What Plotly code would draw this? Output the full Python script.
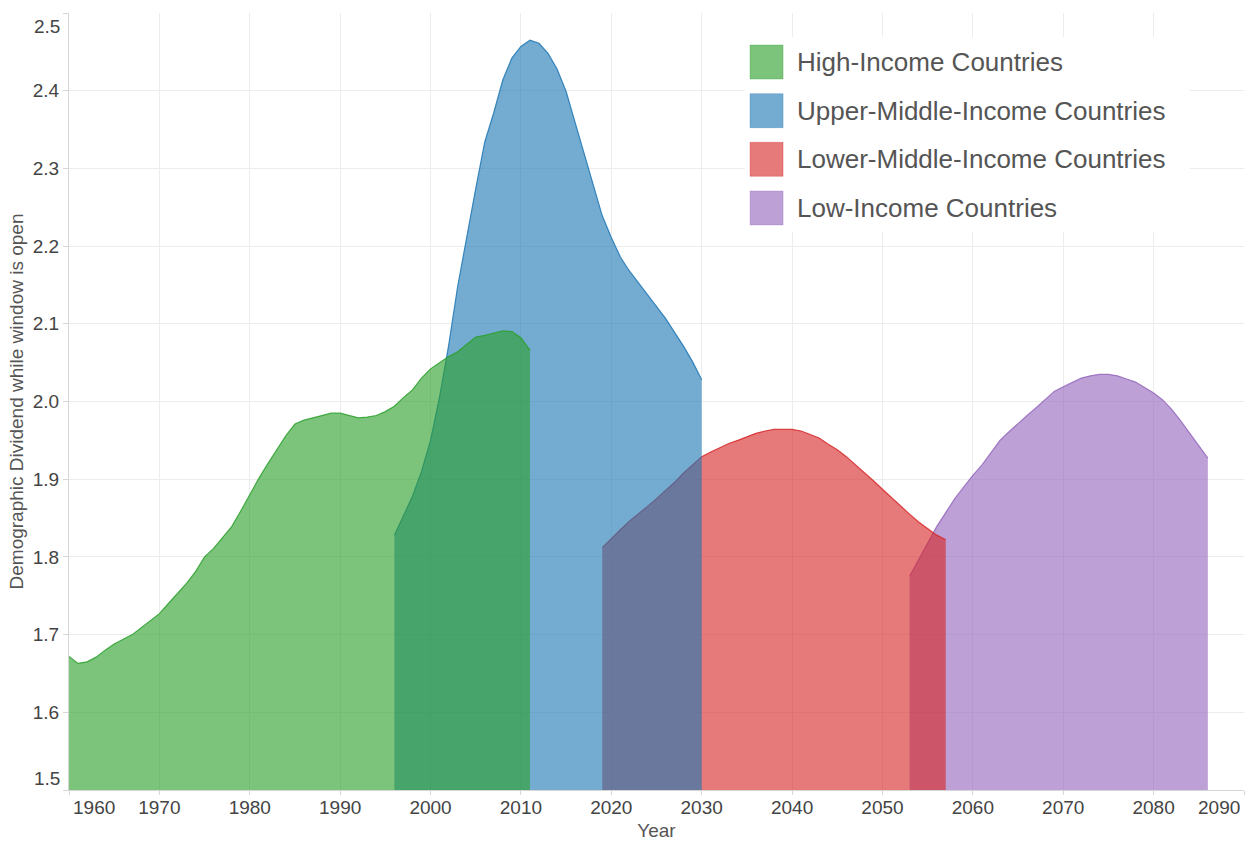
import plotly.graph_objects as go

# ---------------- data ----------------
SERIES_NAMES = [
    "High-Income Countries",
    "Upper-Middle-Income Countries",
    "Lower-Middle-Income Countries",
    "Low-Income Countries",
]

high_years = list(range(1960, 2012))
high_values = [
    1.672, 1.663, 1.665, 1.671, 1.680, 1.688, 1.694, 1.700, 1.709, 1.718,
    1.727, 1.740, 1.753, 1.766, 1.781, 1.800, 1.811, 1.825, 1.839, 1.859,
    1.880, 1.901, 1.920, 1.938, 1.956, 1.971, 1.976, 1.979, 1.982, 1.985,
    1.985, 1.982, 1.979, 1.980, 1.982, 1.987, 1.994, 2.005, 2.015, 2.030,
    2.042, 2.050, 2.058, 2.064, 2.073, 2.083, 2.085, 2.088, 2.091, 2.090,
    2.082, 2.066,
]

upper_mid_years = list(range(1996, 2031))
upper_mid_values = [
    1.828, 1.853, 1.878, 1.910, 1.950, 2.006, 2.072, 2.148, 2.212, 2.274,
    2.334, 2.372, 2.414, 2.442, 2.457, 2.465, 2.461, 2.448, 2.428, 2.399,
    2.359, 2.319, 2.279, 2.239, 2.211, 2.186, 2.168, 2.153, 2.138, 2.123,
    2.107, 2.089, 2.071, 2.051, 2.028,
]

lower_mid_years = list(range(2019, 2058))
lower_mid_values = [
    1.812, 1.824, 1.835, 1.846, 1.855, 1.865, 1.875, 1.885, 1.896, 1.908,
    1.919, 1.929, 1.935, 1.941, 1.946, 1.950, 1.955, 1.959, 1.962, 1.964,
    1.964, 1.964, 1.962, 1.957, 1.953, 1.945, 1.938, 1.929, 1.919, 1.909,
    1.898, 1.887, 1.876, 1.866, 1.855, 1.845, 1.836, 1.828, 1.822,
]

low_years = list(range(2053, 2087))
low_values = [
    1.775, 1.797, 1.819, 1.839, 1.857, 1.875, 1.890, 1.905, 1.918, 1.934,
    1.950, 1.961, 1.972, 1.982, 1.992, 2.002, 2.013, 2.019, 2.025, 2.030,
    2.033, 2.035, 2.035, 2.033, 2.029, 2.025, 2.018, 2.011, 2.002, 1.990,
    1.975, 1.959, 1.943, 1.927,
]

x_ticks = list(range(1960, 2091, 10))
y_ticks = [1.5, 1.6, 1.7, 1.8, 1.9, 2.0, 2.1, 2.2, 2.3, 2.4, 2.5]

# ---------------- styles ----------------
FONT = "Liberation Sans, Arial, Helvetica, sans-serif"
BASE_RGB = {
    "High-Income Countries": (44, 160, 44),
    "Upper-Middle-Income Countries": (31, 119, 180),
    "Lower-Middle-Income Countries": (214, 39, 40),
    "Low-Income Countries": (148, 103, 189),
}
FILL_ALPHA = 0.62
LINE_ALPHA = 0.85


def rgba(name, a):
    r, g, b = BASE_RGB[name]
    return f"rgba({r},{g},{b},{a})"


data_by_name = {
    "High-Income Countries": (high_years, high_values),
    "Upper-Middle-Income Countries": (upper_mid_years, upper_mid_values),
    "Lower-Middle-Income Countries": (lower_mid_years, lower_mid_values),
    "Low-Income Countries": (low_years, low_values),
}

fig = go.Figure()
# draw order: low first, high last (high on top)
for name in reversed(SERIES_NAMES):
    xs, ys = data_by_name[name]
    fig.add_trace(go.Scatter(
        x=xs, y=ys, name=name, mode="lines",
        fill="tozeroy", fillcolor=rgba(name, FILL_ALPHA),
        line=dict(color=rgba(name, LINE_ALPHA), width=1.2),
        showlegend=False,
    ))

tick_font = dict(family=FONT, size=19, color="#444444")
title_font = dict(family=FONT, size=19, color="#555555")
GRID = "#ececec"
AXLINE = "#d6d6d6"

x_ticktext = ["" if v in (x_ticks[0], x_ticks[-1]) else str(v) for v in x_ticks]
y_ticktext = ["" if v in (y_ticks[0], y_ticks[-1]) else f"{v:.1f}" for v in y_ticks]

fig.update_layout(
    width=1249, height=844,
    margin=dict(l=69, r=5, t=13, b=54),
    paper_bgcolor="white", plot_bgcolor="white",
    font=dict(family=FONT),
    xaxis=dict(
        range=[x_ticks[0], x_ticks[-1]], tickmode="array",
        tickvals=x_ticks, ticktext=x_ticktext,
        showgrid=True, gridcolor=GRID, gridwidth=1,
        showline=True, linecolor=AXLINE, linewidth=1,
        ticks="outside", ticklen=4, tickcolor=AXLINE,
        ticklabelstandoff=-4,
        tickfont=tick_font, zeroline=False,
        title=dict(text="Year", font=title_font, standoff=6),
        automargin=False,
    ),
    yaxis=dict(
        range=[y_ticks[0], y_ticks[-1]], tickmode="array",
        tickvals=y_ticks, ticktext=y_ticktext,
        showgrid=True, gridcolor=GRID, gridwidth=1,
        showline=True, linecolor=AXLINE, linewidth=1,
        ticks="outside", ticklen=5, tickcolor=AXLINE,
        tickfont=tick_font, zeroline=False,
        title=dict(text="Demographic Dividend while window is open",
                   font=title_font, standoff=4),
        automargin=False,
    ),
)

# end tick labels shifted inward (as in the reference)
fig.add_annotation(x=x_ticks[0], xref="x", y=0, yref="paper", text=str(x_ticks[0]),
                   showarrow=False, font=tick_font, xanchor="left", yanchor="top",
                   xshift=2, yshift=-5)
fig.add_annotation(x=x_ticks[-1], xref="x", y=0, yref="paper", text=str(x_ticks[-1]),
                   showarrow=False, font=tick_font, xanchor="right", yanchor="top",
                   xshift=-2, yshift=-5)
fig.add_annotation(x=0, xref="paper", y=y_ticks[-1], yref="y", text=f"{y_ticks[-1]:.1f}",
                   showarrow=False, font=tick_font, xanchor="right", yanchor="top",
                   xshift=-7, yshift=-1)
fig.add_annotation(x=0, xref="paper", y=y_ticks[0], yref="y", text=f"{y_ticks[0]:.1f}",
                   showarrow=False, font=tick_font, xanchor="right", yanchor="bottom",
                   xshift=-7, yshift=-1)

# ---------------- custom legend (large swatches) ----------------
LEG_BOX = dict(x0=0.5753, x1=0.954, y0=0.718, y1=0.969)
fig.add_shape(type="rect", xref="paper", yref="paper", layer="above",
              fillcolor="white", line=dict(width=0), **LEG_BOX)
ROW_TOP = 0.9588     # paper y of the first swatch top
ROW_STEP = 0.0626    # paper y step between rows
SW_H = 0.0438
for i, name in enumerate(SERIES_NAMES):
    top = ROW_TOP - i * ROW_STEP
    fig.add_shape(type="rect", xref="paper", yref="paper", layer="above",
                  x0=0.5796, x1=0.6077, y0=top - SW_H, y1=top,
                  fillcolor=rgba(name, FILL_ALPHA),
                  line=dict(color=rgba(name, 0.3), width=1))
    fig.add_annotation(x=0.6179, xref="paper", y=top - SW_H / 2, yref="paper",
                       text=name, showarrow=False, xanchor="left", yanchor="middle",
                       font=dict(family=FONT, size=26, color="#555555"))

fig.write_html("out.html", post_script="document.body.style.margin='0';",
               config={"displayModeBar": False})
